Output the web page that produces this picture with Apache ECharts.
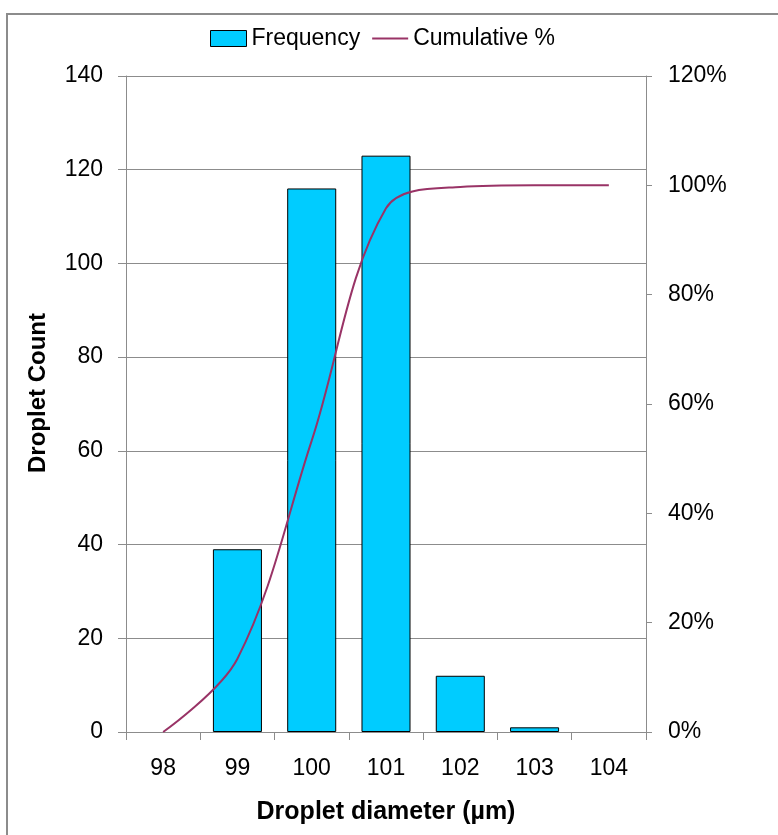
<!DOCTYPE html>
<html>
<head>
<meta charset="utf-8">
<script src="https://cdn.jsdelivr.net/npm/echarts@6/dist/echarts.min.js"></script>
<style>
html,body{margin:0;padding:0;background:#fff;}
#chart{width:778px;height:835px;}
</style>
</head>
<body>
<div id="chart"></div>
<script>
var categories = ['98', '99', '100', '101', '102', '103', '104'];
var frequency = [0, 39, 116, 123, 12, 1, 0];
var cumulative = [0, 13.4, 53.3, 95.8, 99.7, 100, 100];
var leftTicks = [0, 20, 40, 60, 80, 100, 120, 140];
var rightTicks = [0, 20, 40, 60, 80, 100, 120];

var chart = echarts.init(document.getElementById('chart'));
var font = '"Liberation Sans", Arial, sans-serif';
var barData = frequency.map(function (v) {
  return v === 0 ? {value: v, itemStyle: {borderWidth: 0}} : v;
});
chart.setOption({
  animation: false,
  backgroundColor: '#fff',
  graphic: [{
    type: 'rect',
    shape: {x: 7, y: 14, width: 900, height: 900},
    style: {fill: 'none', stroke: '#8c8c8c', lineWidth: 2},
    silent: true, z: -10
  }],
  legend: {
    top: 22,
    left: 205,
    itemGap: 12,
    itemWidth: 36,
    itemHeight: 16,
    textStyle: {fontFamily: font, fontSize: 23, color: '#000'},
    data: [
      {name: 'Frequency', icon: 'rect', itemStyle: {color: '#00CCFF', borderColor: '#000', borderWidth: 1}},
      {name: 'Cumulative %', icon: 'path://M0,9 L36,9 L36,11 L0,11 Z', itemStyle: {color: '#993366'}}
    ]
  },
  grid: {left: 126, right: 132, top: 76, bottom: 103, containLabel: false},
  xAxis: {
    type: 'category',
    data: categories,
    boundaryGap: true,
    name: 'Droplet diameter (µm)',
    nameLocation: 'middle',
    nameGap: 68,
    nameTextStyle: {fontFamily: font, fontSize: 25, fontWeight: 'bold', color: '#000'},
    axisLine: {lineStyle: {color: '#8c8c8c', width: 1}},
    axisTick: {show: true, length: 8, lineStyle: {color: '#8c8c8c'}},
    axisLabel: {fontFamily: font, fontSize: 23, color: '#000', margin: 25}
  },
  yAxis: [{
    type: 'value',
    min: leftTicks[0], max: leftTicks[leftTicks.length - 1], interval: 20,
    name: 'Droplet Count',
    nameLocation: 'middle',
    nameGap: 76,
    nameRotate: 90,
    nameTextStyle: {fontFamily: font, fontSize: 24, fontWeight: 'bold', color: '#000', padding: [0, 0, 0, 22]},
    axisLine: {show: true, lineStyle: {color: '#8c8c8c'}},
    axisTick: {show: true, length: 8, lineStyle: {color: '#8c8c8c'}},
    axisLabel: {fontFamily: font, fontSize: 23, color: '#000', margin: 23},
    splitLine: {show: true, lineStyle: {color: '#8c8c8c', width: 1}}
  }, {
    type: 'value',
    position: 'right',
    min: rightTicks[0], max: rightTicks[rightTicks.length - 1], interval: 20,
    axisLine: {show: true, lineStyle: {color: '#8c8c8c'}},
    axisTick: {show: true, length: 6, lineStyle: {color: '#8c8c8c'}},
    axisLabel: {fontFamily: font, fontSize: 23, color: '#000', margin: 22, formatter: '{value}%'},
    splitLine: {show: false}
  }],
  series: [{
    name: 'Frequency',
    type: 'bar',
    data: barData,
    barWidth: '66%',
    itemStyle: {color: '#00CCFF', borderColor: '#000', borderWidth: 1},
    z: 2
  }, {
    name: 'Cumulative %',
    type: 'line',
    yAxisIndex: 1,
    data: cumulative,
    smooth: 0.35,
    showSymbol: false,
    symbol: 'none',
    lineStyle: {color: '#993366', width: 2},
    itemStyle: {color: '#993366'},
    z: 3
  }]
});
</script>
</body>
</html>
